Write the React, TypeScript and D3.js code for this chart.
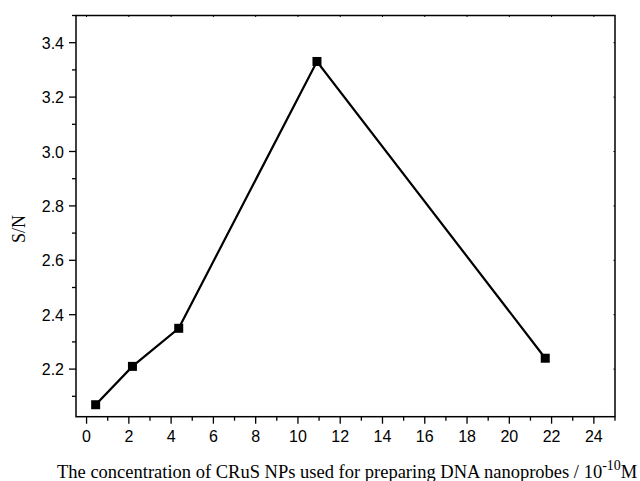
import React, { useEffect, useRef } from "react";
import * as d3 from "d3";

// concentration (10^-10 M) vs S/N
const concentrations = [0.43, 2.17, 4.36, 10.9, 21.7];
const snValues = [2.069, 2.21, 2.35, 3.331, 2.24];

const xMajorTicks = [0, 2, 4, 6, 8, 10, 12, 14, 16, 18, 20, 22, 24];
const xMinorTicks = [1, 3, 5, 7, 9, 11, 13, 15, 17, 19, 21, 23, 25];
const yMajorTicks = [2.2, 2.4, 2.6, 2.8, 3.0, 3.2, 3.4];
const yMinorTicks = [2.1, 2.3, 2.5, 2.7, 2.9, 3.1, 3.3, 3.5];

export default function App() {
  const svgRef = useRef<SVGSVGElement>(null);

  useEffect(() => {
    if (!svgRef.current) return;
    const svg = d3.select(svgRef.current);
    svg.selectAll("*").remove();

    const left = 76, right = 615, top = 15.5, bottom = 416.7;
    const x = d3.scaleLinear().domain([-0.5, 25]).range([left, right]);
    const y = d3.scaleLinear().domain([2.025, 3.5]).range([bottom, top]);

    const sans = "'Liberation Sans', Arial, sans-serif";
    const serif = "'Liberation Serif', 'Times New Roman', serif";

    // frame
    svg.append("rect")
      .attr("x", left).attr("y", top)
      .attr("width", right - left).attr("height", bottom - top)
      .attr("fill", "none").attr("stroke", "#000").attr("stroke-width", 1.5);

    // bottom axis
    const xAxis = svg.append("g");
    xAxis.selectAll("line.major").data(xMajorTicks).enter().append("line")
      .attr("x1", (d) => x(d)).attr("x2", (d) => x(d))
      .attr("y1", bottom).attr("y2", bottom + 7)
      .attr("stroke", "#000").attr("stroke-width", 1.3);
    xAxis.selectAll("line.minor").data(xMinorTicks).enter().append("line")
      .attr("x1", (d) => x(d)).attr("x2", (d) => x(d))
      .attr("y1", bottom).attr("y2", bottom + 4)
      .attr("stroke", "#000").attr("stroke-width", 1.3);
    xAxis.selectAll("text").data(xMajorTicks).enter().append("text")
      .attr("x", (d) => x(d)).attr("y", bottom + 25)
      .attr("text-anchor", "middle")
      .style("font-family", sans).style("font-size", "16px")
      .text((d) => d);

    // top mirrored ticks
    svg.append("g").selectAll("line").data(xMajorTicks).enter().append("line")
      .attr("x1", (d) => x(d)).attr("x2", (d) => x(d))
      .attr("y1", top).attr("y2", top + 1.5)
      .attr("stroke", "#000").attr("stroke-width", 1);

    // left axis
    const yAxis = svg.append("g");
    yAxis.selectAll("line.major").data(yMajorTicks).enter().append("line")
      .attr("x1", left - 7).attr("x2", left)
      .attr("y1", (d) => y(d)).attr("y2", (d) => y(d))
      .attr("stroke", "#000").attr("stroke-width", 1.3);
    yAxis.selectAll("line.minor").data(yMinorTicks).enter().append("line")
      .attr("x1", left - 4).attr("x2", left)
      .attr("y1", (d) => y(d)).attr("y2", (d) => y(d))
      .attr("stroke", "#000").attr("stroke-width", 1.3);
    yAxis.selectAll("text").data(yMajorTicks).enter().append("text")
      .attr("x", left - 12).attr("y", (d) => y(d) + 6)
      .attr("text-anchor", "end")
      .style("font-family", sans).style("font-size", "16px")
      .text((d) => d.toFixed(1));

    // right mirrored ticks
    svg.append("g").selectAll("line").data(yMajorTicks).enter().append("line")
      .attr("x1", right - 1.5).attr("x2", right)
      .attr("y1", (d) => y(d)).attr("y2", (d) => y(d))
      .attr("stroke", "#000").attr("stroke-width", 1);

    // series
    const pts = concentrations.map((c, i) => [c, snValues[i]] as [number, number]);
    const line = d3.line<[number, number]>().x((d) => x(d[0])).y((d) => y(d[1]));
    svg.append("path").datum(pts)
      .attr("d", line).attr("fill", "none")
      .attr("stroke", "#000").attr("stroke-width", 2.2);
    svg.selectAll("rect.pt").data(pts).enter().append("rect")
      .attr("class", "pt")
      .attr("x", (d) => x(d[0]) - 4.5).attr("y", (d) => y(d[1]) - 4.5)
      .attr("width", 9).attr("height", 9).attr("fill", "#000");

    // axis titles
    svg.append("text")
      .attr("transform", `translate(25, ${(top + bottom) / 2 + 13}) rotate(-90)`)
      .attr("text-anchor", "middle")
      .style("font-family", serif).style("font-size", "18px")
      .text("S/N");

    const xt = svg.append("text")
      .attr("x", 57).attr("y", 477.5)
      .style("font-family", serif).style("font-size", "18.5px");
    xt.append("tspan").text("The concentration of CRuS NPs used for preparing DNA nanoprobes / 10");
    xt.append("tspan").attr("dy", -8).style("font-size", "14px").text("-10");
    xt.append("tspan").attr("dy", 8).text("M");
  }, []);

  return (
    <svg
      ref={svgRef}
      width={640}
      height={481}
      style={{ position: "fixed", left: 0, top: 0, background: "#fff" }}
    />
  );
}
